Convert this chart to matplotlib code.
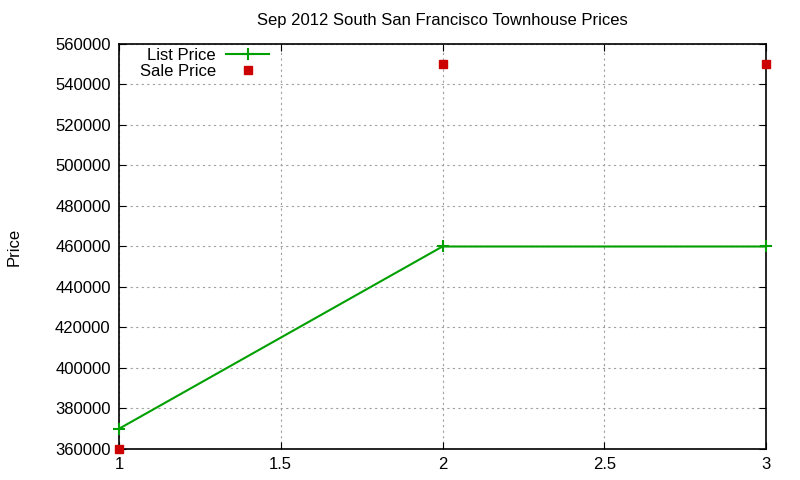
import matplotlib
matplotlib.use('Agg')
import matplotlib.pyplot as plt

# data
x = [1, 2, 3]
list_price = [370000, 460000, 460000]
sale_price = [360000, 550000, 550000]
xticks = [1, 1.5, 2, 2.5, 3]
yticks = list(range(360000, 560001, 20000))

plt.rcParams['font.family'] = ['Liberation Sans', 'DejaVu Sans']

fig = plt.figure(figsize=(8, 4.8), dpi=100)
ax = fig.add_axes([119/800, 31/480, 647/800, 405/480])

ax.plot(x, list_price, color='#00a000', lw=1.5, marker='+', ms=8, mew=1.5,
        label='List Price', clip_on=False, zorder=3)
ax.plot(x, sale_price, ls='none', color='#cc0000', marker='s', ms=6,
        label='Sale Price', clip_on=False, zorder=4)

ax.set_xlim(1, 3)
ax.set_ylim(360000, 560000)
ax.set_xticks(xticks)
ax.set_xticklabels(['1', '1.5', '2', '2.5', '3'])
ax.set_yticks(yticks)
ax.set_yticklabels([str(v) for v in yticks])
ax.tick_params(direction='in', top=True, right=True, labelsize=12, length=5, color='black', pad=6)
ax.grid(True, color='#a0a0a0', ls=(0, (2, 3)), lw=0.8)
for s in ax.spines.values():
    s.set_linewidth(1.2)

ax.set_title('Sep 2012 South San Francisco Townhouse Prices', fontsize=12, pad=14)
ax.set_ylabel('Price', fontsize=12, labelpad=24)

ax.legend(loc='upper left', frameon=False, markerfirst=False, fontsize=12,
          handlelength=2.6, borderaxespad=0.2, labelspacing=0.05, handletextpad=0.6,
          bbox_to_anchor=(0.017, 1.015))

fig.savefig('out.png', dpi=100)
